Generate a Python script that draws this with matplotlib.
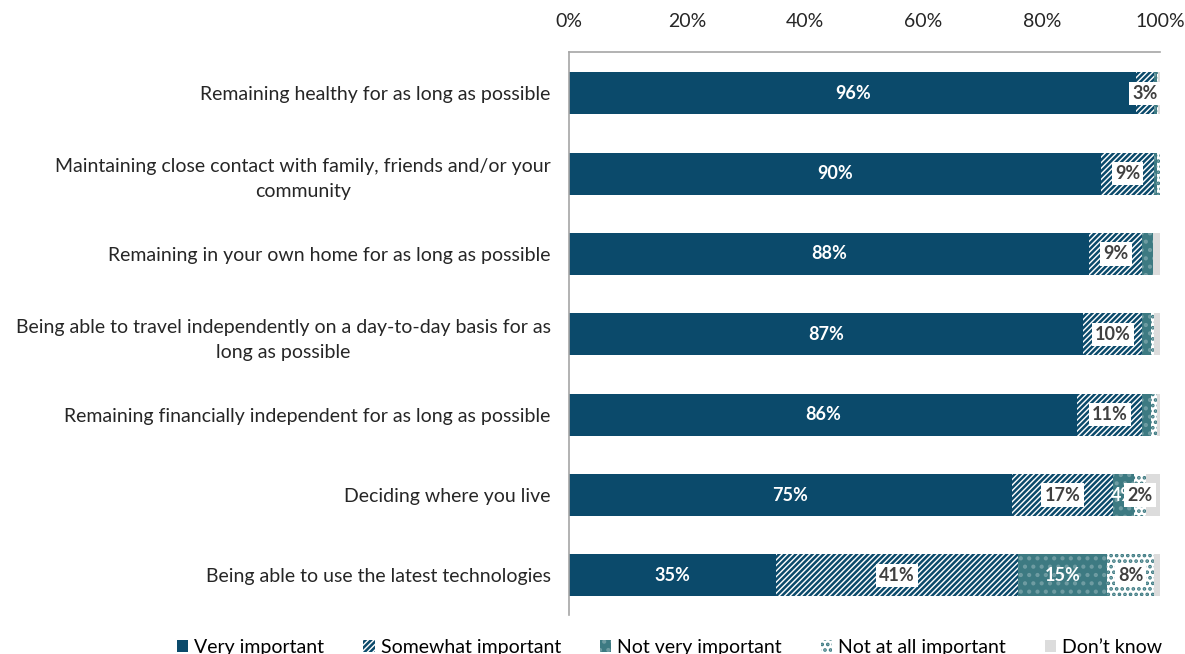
import matplotlib as mpl
mpl.use('Agg')
import matplotlib.pyplot as plt
from matplotlib.patches import Patch
import numpy as np

plt.rcParams['font.family'] = ['Lato', 'DejaVu Sans']
plt.rcParams['hatch.linewidth'] = 1.8

# data (percent of respondents)
categories = [
    "Remaining healthy for as long as possible",
    "Maintaining close contact with family, friends and/or your\ncommunity",
    "Remaining in your own home for as long as possible",
    "Being able to travel independently on a day-to-day basis for as\nlong as possible",
    "Remaining financially independent for as long as possible",
    "Deciding where you live",
    "Being able to use the latest technologies",
]
series_names = ["Very important", "Somewhat important", "Not very important",
                "Not at all important", "Don\u2019t know"]
very_important = [96, 90, 88, 87, 86, 75, 35]
somewhat_important = [3, 9, 9, 10, 11, 17, 41]
not_very_important = [0.4, 0.5, 1.8, 1.5, 1.5, 3.6, 15]
not_at_all_important = [0.3, 0.5, 0, 0.5, 1, 2, 8]
dont_know = [0.3, 0, 1.2, 1, 0.5, 2.4, 1]

dark = '#0b4a6b'
teal = '#3d7a82'
grey = '#dcdcdc'
text_col = '#404040'

# style per series: face, hatch colour, hatch, label colour, boxed label
styles = [
    dict(face=dark, edge=dark, hatch=None, txt='white', box=False),
    dict(face='white', edge=dark, hatch='//////', txt=text_col, box=True),
    dict(face=teal, edge='#6f9ca2', hatch='..', txt='white', box=False),
    dict(face='white', edge=teal, hatch='...', txt=text_col, box=True),
    dict(face=grey, edge=grey, hatch=None, txt=text_col, box=False),
]

data = [very_important, somewhat_important, not_very_important,
        not_at_all_important, dont_know]

fig = plt.figure(figsize=(11.85, 6.54), dpi=100)
ax = fig.add_axes([0.480, 0.060, 0.499, 0.860])

y = np.arange(len(categories))
left = np.zeros(len(categories))
for i, vals in enumerate(data):
    st = styles[i]
    vals = np.array(vals, dtype=float)
    ax.barh(y, vals, left=left, height=0.52, color=st['face'],
            edgecolor=st['edge'], hatch=st['hatch'], linewidth=0)
    if i < 4:
        for j, v in enumerate(vals):
            if v >= 2:
                bbox = dict(boxstyle='square,pad=0.18', fc='white', ec='none') if st['box'] else None
                ax.text(left[j] + v / 2, y[j], f"{v:.0f}%", ha='center', va='center',
                        fontsize=13, fontweight='bold', color=st['txt'], bbox=bbox)
    left += vals

ax.set_xlim(0, 100)
ax.set_ylim(6.49, -0.51)
ax.set_yticks(y)
ax.set_yticklabels(categories, fontsize=14, color='#262626', ha='right',
                   multialignment='center', linespacing=1.55)
ax.xaxis.tick_top()
ax.set_xticks(np.arange(0, 101, 20))
ax.set_xticklabels([f"{t}%" for t in range(0, 101, 20)], fontsize=14, color='#262626')
ax.tick_params(axis='y', length=0, pad=13)
ax.tick_params(axis='x', length=0, pad=16)
for s in ['right', 'bottom']:
    ax.spines[s].set_visible(False)
for s in ['top', 'left']:
    ax.spines[s].set_color('#a6a6a6')
    ax.spines[s].set_linewidth(1.2)

handles = [Patch(facecolor=st['face'], edgecolor=st['edge'], hatch=st['hatch'], linewidth=0)
           for st in styles]
fig.legend(handles, series_names, loc='lower center', ncol=5, frameon=False,
           bbox_to_anchor=(0.565, -0.03), fontsize=14, handlelength=0.6,
           handleheight=0.6, handletextpad=0.3, columnspacing=2.0)

fig.savefig('out.png', dpi=100)
